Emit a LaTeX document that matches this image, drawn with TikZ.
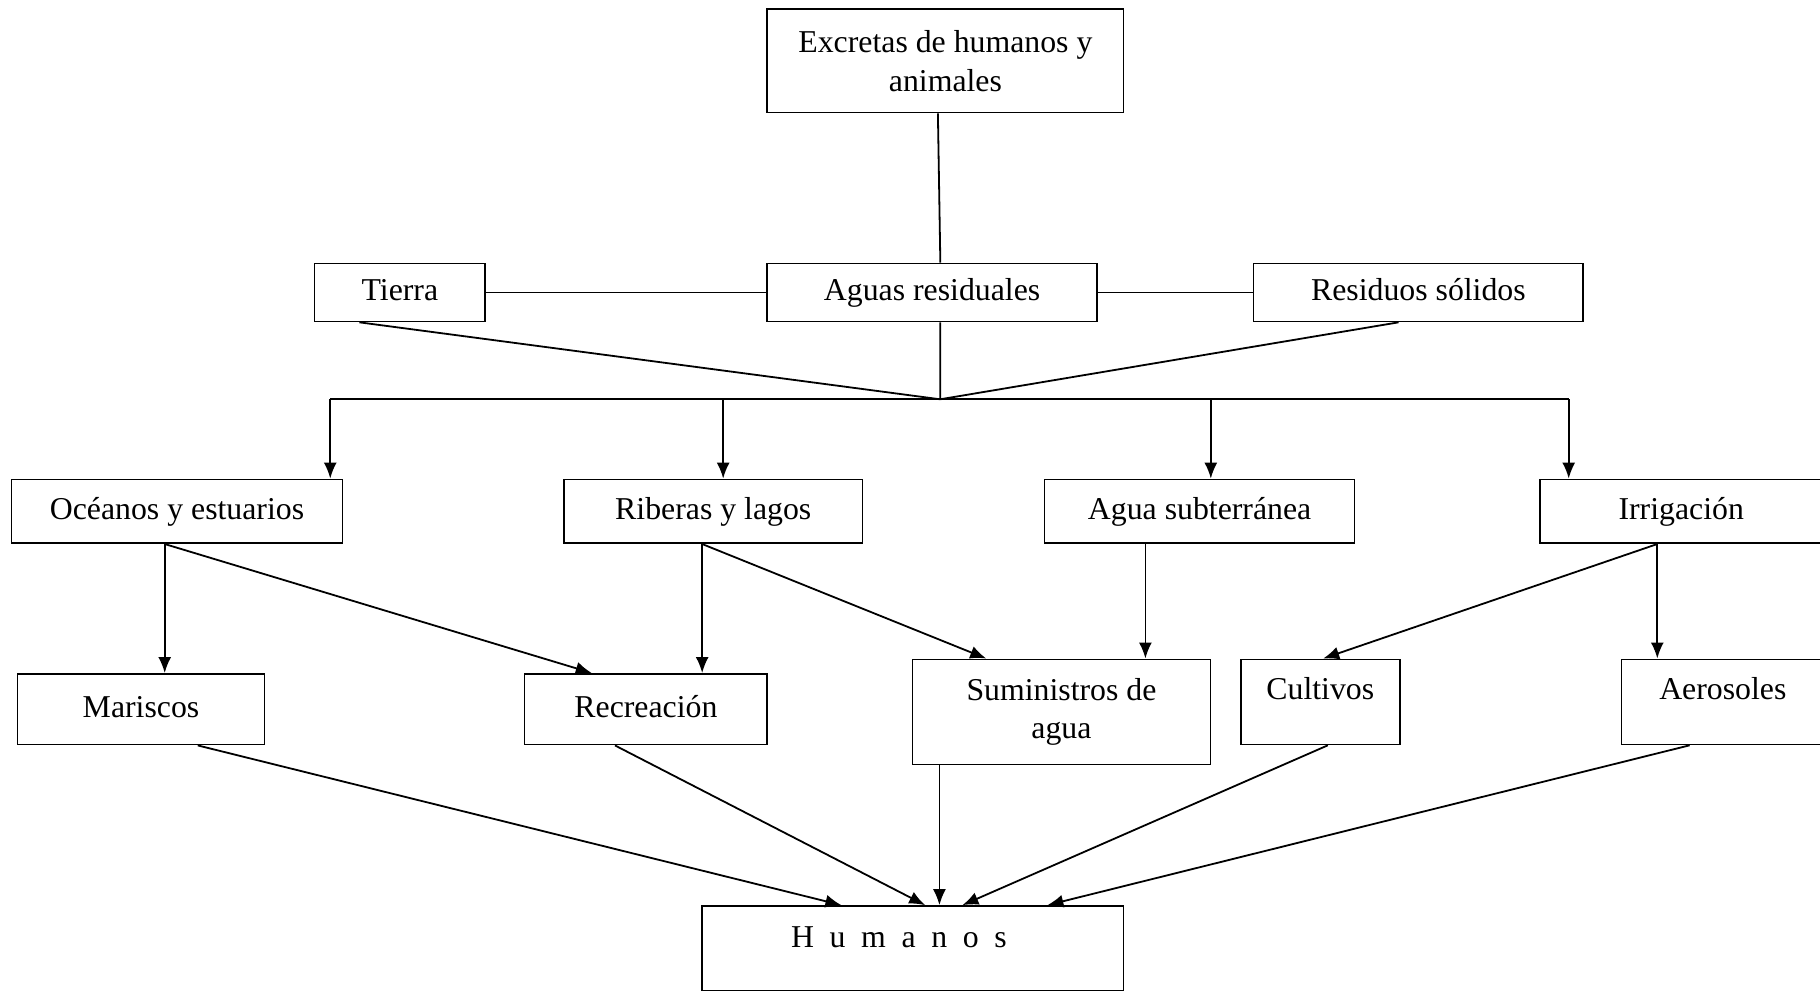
\documentclass[tikz,border=0pt]{standalone}
\usepackage{fontspec}
\setmainfont{Liberation Serif}
\usetikzlibrary{calc,arrows.meta}
\newcommand\BotPt[3]{\coordinate (#1) at ($(#2.south west)!#3!(#2.south east)$);}
\newcommand\TopPt[3]{\coordinate (#1) at ($(#2.north west)!#3!(#2.north east)$);}
\tikzset{
  box/.style 2 args={draw, line width=0.8pt, minimum width=#1*0.5804pt, minimum height=#2*0.5804pt, inner sep=0pt, text height=11pt, text depth=3pt},
  mbox/.style 2 args={draw, line width=0.8pt, minimum width=#1*0.5804pt, minimum height=#2*0.5804pt, inner sep=0pt, align=center},
  lifttext/.style={text depth=13pt},
  con/.style={line width=0.9pt},
  arr/.style={con, -{Latex[length=8pt,width=6.5pt]}},
}
\begin{document}
\begin{tikzpicture}[x={(0.5804pt,0pt)}, y={(0pt,-0.5804pt)}, font=\fontsize{15.9}{19.2}\selectfont]
\fill[white] (0,0) rectangle (1568,855);
\clip (0,0) rectangle (1568,855);
% nodes
\node[mbox={307}{89}] (exc) at (814.5,52.5) {Excretas de humanos y\\animales};
\node[box={147}{50}] (tie) at (344.5,252) {Tierra};
\node[box={284}{50}] (agu) at (803,252) {Aguas residuales};
\node[box={284}{50}] (res) at (1222,252) {Residuos sólidos};
\node[box={285}{55}] (oce) at (152.5,440.5) {Océanos y estuarios};
\node[box={257}{55}] (rib) at (614.5,440.5) {Riberas y lagos};
\node[box={267}{55}] (sub) at (1033.5,440.5) {Agua subterránea};
\node[box={248}{55}] (irr) at (1451,440.5) {Irrigación\kern3pt};
\node[box={213}{61}] (mar) at (121.5,611) {Mariscos};
\node[box={209}{61}] (rec) at (556.5,611) {Recreación};
\node[mbox={257}{90.6}] (sum) at (914.5,613.3) {Suministros de\\agua};
\node[box={137}{73.4}, lifttext] (cul) at (1137.5,604.7) {Cultivos};
\node[box={178}{73.4}, lifttext] (aer) at (1486,604.7) {Aerosoles\kern2pt};
\node[box={363}{73}, text depth=12pt] (hum) at (786.5,817) {H\hspace{7.8pt}u\hspace{7.8pt}m\hspace{7.8pt}a\hspace{7.8pt}n\hspace{7.8pt}o\hspace{7.8pt}s\kern14pt};
% anchor points
\BotPt{excB}{exc}{.479}
\TopPt{aguT}{agu}{.525}
\BotPt{tieB}{tie}{.265}
\BotPt{aguB}{agu}{.525}
\BotPt{resB}{res}{.44}
\coordinate (J) at (810,344);
\TopPt{oceT}{oce}{.961}
\TopPt{ribT}{rib}{.533}
\TopPt{subT}{sub}{.536}
\TopPt{irrT}{irr}{.101}
\BotPt{oceB}{oce}{.463}
\BotPt{ribB}{rib}{.463}
\BotPt{subB}{sub}{.326}
\BotPt{irrB}{irr}{.407}
\TopPt{recT}{rec}{.278}
\TopPt{sumT}{sum}{.249}
\TopPt{culT}{cul}{.518}
\BotPt{marB}{mar}{.728}
\BotPt{recB}{rec}{.373}
\BotPt{sumB}{sum}{.093}
\BotPt{culB}{cul}{.547}
\BotPt{aerB}{aer}{.331}
\TopPt{humA}{hum}{.331}
\TopPt{humB}{hum}{.529}
\TopPt{humD}{hum}{.617}
\TopPt{humE}{hum}{.818}
% connectors top
\draw[con] (excB) -- (aguT);
\draw[con] (tie.east) -- (agu.west);
\draw[con] (agu.east) -- (res.west);
\draw[con] (tieB) -- (J);
\draw[con] (aguB) -- (J);
\draw[con] (resB) -- (J);
\draw[con] (oceT |- J) -- (irrT |- J);
\foreach \p in {oceT,ribT,subT,irrT} \draw[arr] (\p |- J) -- (\p);
% row 2 to row 3
\draw[arr] (oceB) -- (oceB |- mar.north);
\draw[arr] (oceB) -- (recT);
\draw[arr] (ribB) -- (ribB |- rec.north);
\draw[arr] (ribB) -- (sumT);
\draw[arr] (subB) -- (subB |- sum.north);
\draw[arr] (irrB) -- (culT);
\draw[arr] (irrB) -- (irrB |- aer.north);
% row 3 to humanos
\draw[arr] (marB) -- (humA);
\draw[arr] (recB) -- (humB);
\draw[arr] (sumB) -- (sumB |- hum.north);
\draw[arr] (culB) -- (humD);
\draw[arr] (aerB) -- (humE);
\end{tikzpicture}
\end{document}
